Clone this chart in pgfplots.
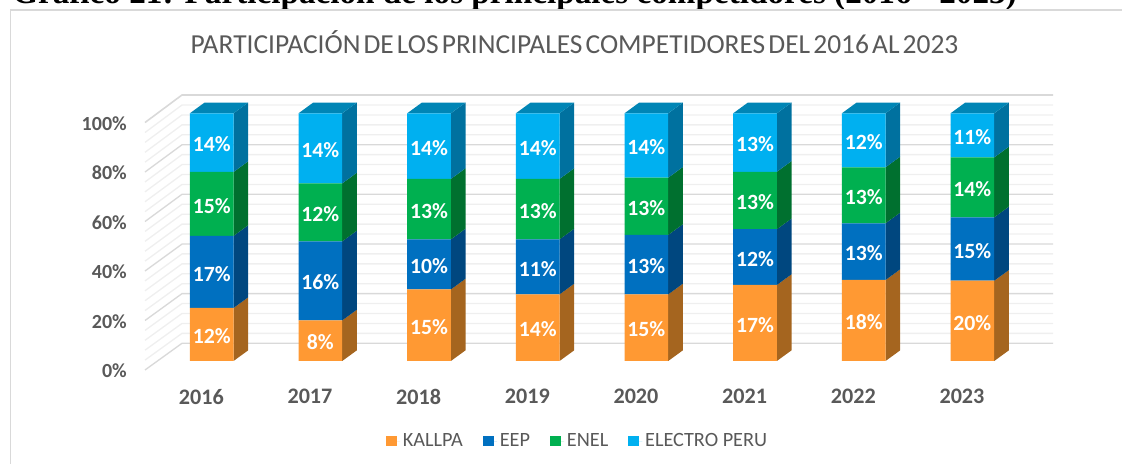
\documentclass[border=0pt]{standalone}
\usepackage{fontspec}
\setmainfont{Carlito}
\newfontfamily\headfont{Liberation Serif}
\newfontfamily\titlefont[WordSpace=0.5]{Carlito}
\usepackage{pgfplots}
\pgfplotsset{compat=1.18}
\usepackage{pgfplotstable}
\definecolor{cKal}{HTML}{FF9933}
\definecolor{cEep}{HTML}{0070C0}
\definecolor{cEne}{HTML}{00B050}
\definecolor{cEle}{HTML}{00B0F0}
\definecolor{sKal}{HTML}{A5651F}
\definecolor{sEep}{HTML}{00477F}
\definecolor{sEne}{HTML}{00702F}
\definecolor{sEle}{HTML}{00719F}
\definecolor{tEle}{HTML}{0085B5}
\definecolor{txt}{HTML}{595959}
\definecolor{gMaj}{HTML}{D9D9D9}
\definecolor{gMin}{HTML}{EFEFEF}
\pgfplotstableread{
x kallpa eep enel electro
0 21.4 29.1 25.8 23.7
1 16.4 31.9 23.4 28.3
2 28.9 20.2 24.4 26.5
3 26.9 22.2 24.4 26.5
4 26.9 24.0 23.1 26.0
5 30.7 22.5 23.2 23.6
6 32.7 22.9 22.6 21.8
7 32.4 25.6 24.2 17.8
}\shares
\newcommand\barside[4]{%
  \pgfmathsetmacro\xaa{#2+0.201}\pgfmathsetmacro\xbb{#2+0.336}%
  \pgfmathsetmacro\yaa{#3+4.32}\pgfmathsetmacro\ybb{#4+4.32}%
  \addplot[fill=#1,draw=none,forget plot] coordinates {(\xaa,#3)(\xbb,\yaa)(\xbb,\ybb)(\xaa,#4)} -- cycle;}
\newcommand\bartop[1]{%
  \pgfmathsetmacro\xaa{#1-0.201}\pgfmathsetmacro\xab{#1-0.066}%
  \pgfmathsetmacro\xbb{#1+0.336}\pgfmathsetmacro\xba{#1+0.201}%
  \addplot[fill=tEle,draw=none,forget plot] coordinates {(\xaa,100)(\xab,104.32)(\xbb,104.32)(\xba,100)} -- cycle;}
\newcommand\gridl[4]{\addplot[draw=#1,line width=#2,forget plot,no marks] coordinates {(-0.6138,#3)(-0.2733,#4)(7.7418,#4)};}
\pgfplotsset{common/.style={
  scale only axis, width=681pt, height=185.78pt,
  at={(108.75pt,77.25pt)}, anchor=south west,
  xmin=-0.6138, xmax=7.7418, ymin=0, ymax=100, clip=false}}
\begin{document}
\begin{tikzpicture}[x=0.75pt,y=0.75pt]
\path[use as bounding box] (0,0) rectangle (1122,464);
\begin{scope}
\clip (0,0) rectangle (1122,464);
\node[anchor=base west,inner sep=0pt,font=\headfont\bfseries\fontsize{24.9pt}{27pt}\selectfont,text=black] at (12,460) {Gráfico 21: Participación de los principales competidores (2016 - 2023)};
\end{scope}
\draw[gMaj,line width=1.1pt] (10.5,0) -- (10.5,454) -- (1122,454);
\node[font=\titlefont\fontsize{20.6pt}{23pt}\selectfont,text=txt,inner sep=0pt] at (574.5,422) {PARTICIPACIÓN DE LOS PRINCIPALES COMPETIDORES DEL 2016 AL 2023};
% walls, side faces, tick labels
\begin{axis}[common,
  axis line style={draw=none}, major tick length=0pt, minor tick num=0,
  xtick={0,...,7}, xticklabels={2016,2017,2018,2019,2020,2021,2022,2023},
  ytick={0,20,40,60,80,100}, yticklabels={0\%,20\%,40\%,60\%,80\%,100\%},
  x tick label style={anchor=center,inner sep=0pt,xshift=-7.8pt,yshift=-26.8pt,text=txt,font=\bfseries\fontsize{16.6pt}{18pt}\selectfont},
  y tick label style={anchor=east,inner sep=0pt,xshift=-13.5pt,yshift=-7.6pt,text=txt,font=\bfseries\fontsize{15pt}{18pt}\selectfont},
]
\gridl{gMin}{1pt}{0.37}{11.16}
\gridl{gMin}{1pt}{4.37}{15.17}
\gridl{gMin}{1pt}{8.36}{19.18}
\gridl{gMin}{1pt}{12.35}{23.19}
\gridl{gMin}{1pt}{20.35}{31.2}
\gridl{gMin}{1pt}{24.34}{35.21}
\gridl{gMin}{1pt}{28.33}{39.22}
\gridl{gMin}{1pt}{32.33}{43.23}
\gridl{gMin}{1pt}{40.32}{51.24}
\gridl{gMin}{1pt}{44.31}{55.25}
\gridl{gMin}{1pt}{48.31}{59.26}
\gridl{gMin}{1pt}{52.3}{63.27}
\gridl{gMin}{1pt}{60.29}{71.28}
\gridl{gMin}{1pt}{64.29}{75.29}
\gridl{gMin}{1pt}{68.28}{79.3}
\gridl{gMin}{1pt}{72.27}{83.31}
\gridl{gMin}{1pt}{80.26}{91.32}
\gridl{gMin}{1pt}{84.25}{95.33}
\gridl{gMin}{1pt}{88.25}{99.34}
\gridl{gMin}{1pt}{92.24}{103.35}
\gridl{gMaj}{1pt}{-3.63}{7.15}
\gridl{gMaj}{1pt}{16.35}{27.2}
\gridl{gMaj}{1pt}{36.33}{47.2}
\gridl{gMaj}{1pt}{56.31}{67.3}
\gridl{gMaj}{1pt}{76.29}{87.3}
\gridl{gMaj}{1.2pt}{96.27}{107.4}
% side faces: bar, lower and upper level of each segment
\barside{sKal}{0}{0}{21.4}\barside{sEep}{0}{21.4}{50.5}\barside{sEne}{0}{50.5}{76.3}\barside{sEle}{0}{76.3}{100}\bartop{0}
\barside{sKal}{1}{0}{16.4}\barside{sEep}{1}{16.4}{48.3}\barside{sEne}{1}{48.3}{71.7}\barside{sEle}{1}{71.7}{100}\bartop{1}
\barside{sKal}{2}{0}{28.9}\barside{sEep}{2}{28.9}{49.1}\barside{sEne}{2}{49.1}{73.5}\barside{sEle}{2}{73.5}{100}\bartop{2}
\barside{sKal}{3}{0}{26.9}\barside{sEep}{3}{26.9}{49.1}\barside{sEne}{3}{49.1}{73.5}\barside{sEle}{3}{73.5}{100}\bartop{3}
\barside{sKal}{4}{0}{26.9}\barside{sEep}{4}{26.9}{50.9}\barside{sEne}{4}{50.9}{74.0}\barside{sEle}{4}{74.0}{100}\bartop{4}
\barside{sKal}{5}{0}{30.7}\barside{sEep}{5}{30.7}{53.2}\barside{sEne}{5}{53.2}{76.4}\barside{sEle}{5}{76.4}{100}\bartop{5}
\barside{sKal}{6}{0}{32.7}\barside{sEep}{6}{32.7}{55.6}\barside{sEne}{6}{55.6}{78.2}\barside{sEle}{6}{78.2}{100}\bartop{6}
\barside{sKal}{7}{0}{32.4}\barside{sEep}{7}{32.4}{58.0}\barside{sEne}{7}{58.0}{82.2}\barside{sEle}{7}{82.2}{100}\bartop{7}
\end{axis}
% front faces and legend
\begin{axis}[common, hide axis, ybar stacked, bar width=32.775pt,
  legend columns=4,
  legend style={at={(0.4768,-0.323)},anchor=center,draw=none,fill=none,inner sep=0pt,
    font=\fontsize{15.2pt}{18pt}\selectfont,text=txt,
    /tikz/every even column/.append style={column sep=13pt}},
  legend image code/.code={\fill[#1] (0pt,-4.1pt) rectangle (8.25pt,4.1pt);\path (0pt,0pt) -- (10.65pt,0pt);},
]
\addplot[fill=cKal,draw=none] table[x=x,y=kallpa] {\shares};
\addplot[fill=cEep,draw=none] table[x=x,y=eep] {\shares};
\addplot[fill=cEne,draw=none] table[x=x,y=enel] {\shares};
\addplot[fill=cEle,draw=none] table[x=x,y=electro] {\shares};
\legend{KALLPA,EEP,ENEL,ELECTRO PERU}
\end{axis}
% data labels
\begin{axis}[common, hide axis,
  nodes near coords, point meta=explicit symbolic,
  every node near coord/.append style={anchor=center,inner sep=0pt,yshift=-1.3pt,text=white,font=\bfseries\fontsize{16.3pt}{18pt}\selectfont},
]
\addplot[draw=none,mark=none] coordinates {(0,10.7)[12\%] (1,8.2)[8\%] (2,14.45)[15\%] (3,13.45)[14\%] (4,13.45)[15\%] (5,15.35)[17\%] (6,16.35)[18\%] (7,16.2)[20\%]};
\addplot[draw=none,mark=none] coordinates {(0,35.95)[17\%] (1,32.35)[16\%] (2,39.0)[10\%] (3,38.0)[11\%] (4,38.9)[13\%] (5,41.95)[12\%] (6,44.15)[13\%] (7,45.2)[15\%]};
\addplot[draw=none,mark=none] coordinates {(0,63.4)[15\%] (1,60.0)[12\%] (2,61.3)[13\%] (3,61.3)[13\%] (4,62.45)[13\%] (5,64.8)[13\%] (6,66.9)[13\%] (7,70.1)[14\%]};
\addplot[draw=none,mark=none] coordinates {(0,88.15)[14\%] (1,85.85)[14\%] (2,86.75)[14\%] (3,86.75)[14\%] (4,87.0)[14\%] (5,88.2)[13\%] (6,89.1)[12\%] (7,91.1)[11\%]};
\end{axis}
\end{tikzpicture}
\end{document}
